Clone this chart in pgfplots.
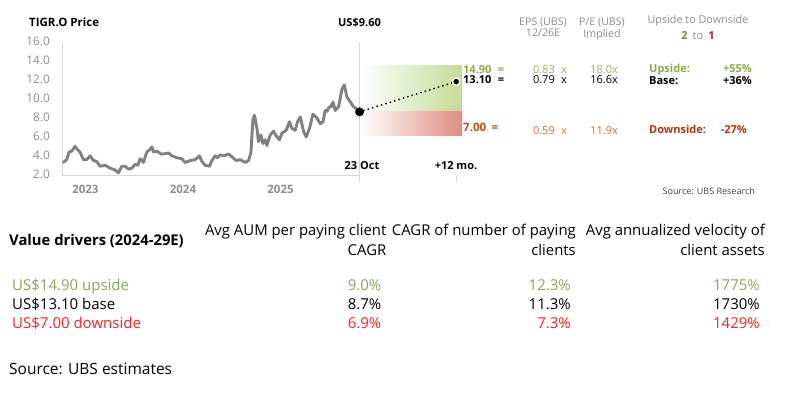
\documentclass[border=0pt]{standalone}
\usepackage{fontspec}
\setmainfont{Open Sans}
\usepackage{pgfplots}
\pgfplotsset{compat=1.18}
\definecolor{linegray}{RGB}{128,128,128}
\definecolor{ticklab}{RGB}{140,140,140}
\definecolor{gridgray}{RGB}{215,215,215}
\definecolor{boxgreen}{RGB}{196,220,150}
\definecolor{boxred}{RGB}{225,140,128}
\definecolor{ubsgreen}{RGB}{140,170,70}
\definecolor{ubsgreenlt}{RGB}{150,180,95}
\definecolor{darkgreen}{RGB}{100,140,40}
\definecolor{darkred}{RGB}{170,40,30}
\definecolor{brown}{RGB}{190,80,20}
\definecolor{brownlt}{RGB}{200,115,55}
\definecolor{browndk}{RGB}{170,55,20}
\definecolor{tblgreen}{RGB}{140,165,90}
\definecolor{tblred}{RGB}{250,35,35}
\newcommand\fs[1]{\fontsize{#1}{#1}\selectfont}
\begin{document}
\begin{tikzpicture}[x=1pt,y=-1pt]
\path[use as bounding box] (0,0) rectangle (786,396);
\begin{axis}[at={(62pt,-175.7pt)}, anchor=south west, scale only axis,
  width=400pt, height=132.4pt,
  xmin=2022.76, xmax=2026.86, ymin=2, ymax=16,
  axis lines*=left, axis line style={draw=none,-},
  major tick length=0pt, clip=false,
  ytick={2,4,...,16},
  yticklabel style={/pgf/number format/fixed,/pgf/number format/fixed zerofill,/pgf/number format/precision=1, anchor=mid east, inner sep=0pt, xshift=-12pt, font=\fs{11.8}, text=ticklab},
  /pgf/number format/assume math mode=true,
  xtick={2023,2024,2025}, xticklabels={2023,2024,2025},
  xticklabel style={anchor=mid, inner sep=0pt, yshift=-15pt, font=\fs{11.5}\bfseries, text=ticklab},
]
\addplot[draw=none, left color=white, right color=boxgreen] coordinates {(2025.81,8.75) (2026.86,8.75) (2026.86,13.6) (2025.81,13.6)} -- cycle;
\addplot[draw=none, left color=white, right color=boxred] coordinates {(2025.81,6.3) (2026.86,6.3) (2026.86,8.75) (2025.81,8.75)} -- cycle;
\draw[gridgray, line width=0.8pt] (axis cs:2022.76,16) -- (axis cs:2022.76,2) -- (axis cs:2025.81,2);
\draw[gridgray, line width=0.8pt] (axis cs:2025.81,16) -- (axis cs:2025.81,2) -- ++(0pt,-6pt);
\draw[gridgray, line width=0.8pt] (axis cs:2026.80,2) -- ++(0pt,-6pt);
\addplot[color=linegray, line width=2.9pt, line join=round, line cap=round] table {
2022.774 3.4
2022.809 3.7
2022.833 4.5
2022.860 4.6
2022.894 5.1
2022.915 4.8
2022.945 4.5
2022.979 3.7
2023.014 3.7
2023.048 4.1
2023.082 3.6
2023.117 3.5
2023.151 3.0
2023.202 3.1
2023.253 2.8
2023.304 2.6
2023.338 2.3
2023.373 3.0
2023.407 3.0
2023.441 2.7
2023.476 2.8
2023.509 3.2
2023.537 3.1
2023.561 3.8
2023.595 3.4
2023.629 4.5
2023.663 4.8
2023.681 5.05
2023.697 4.5
2023.732 4.6
2023.776 4.3
2023.800 4.3
2023.851 4.4
2023.886 4.1
2023.937 3.9
2023.988 3.8
2024.022 3.4
2024.074 3.6
2024.125 3.7
2024.169 4.1
2024.194 3.5
2024.227 3.1
2024.272 3.0
2024.296 3.6
2024.330 4.1
2024.354 3.9
2024.381 4.2
2024.422 4.1
2024.466 4.3
2024.501 4.0
2024.545 3.6
2024.586 3.7
2024.638 3.4
2024.672 3.6
2024.696 4.4
2024.717 7.9
2024.733 8.4
2024.758 7.0
2024.774 5.6
2024.799 6.3
2024.819 5.4
2024.843 5.8
2024.860 5.2
2024.894 6.3
2024.928 6.7
2024.963 6.1
2024.989 5.8
2025.014 6.5
2025.058 6.8
2025.092 7.7
2025.117 7.0
2025.151 6.8
2025.174 7.7
2025.202 8.2
2025.236 6.7
2025.263 6.1
2025.297 7.0
2025.332 8.5
2025.373 8.1
2025.407 7.5
2025.435 7.7
2025.458 8.9
2025.476 8.8
2025.492 9.2
2025.517 9.3
2025.537 9.8
2025.561 8.9
2025.595 9.3
2025.629 11.1
2025.653 11.6
2025.681 10.3
2025.715 9.8
2025.748 9.3
2025.776 9.1
2025.810 8.75
};
\addplot[black, line width=2pt, dash pattern=on 0pt off 4.6pt, line cap=round] coordinates {(2025.81,8.75) (2026.80,11.95)};
\addplot[only marks, mark=*, mark size=4.2pt, black] coordinates {(2025.81,8.75)};
\addplot[only marks, mark=*, mark size=3.6pt, mark options={fill=black, draw=white, line width=1.3pt}] coordinates {(2026.80,11.95)};
\end{axis}
% top texts
\node[anchor=mid west, font=\fs{11.5}\bfseries, inner sep=0pt] at (29,24) {TIGR.O Price};
\node[anchor=mid east, font=\fs{11}\bfseries, inner sep=0pt] at (381,24) {US\$9.60};
\node[anchor=mid, font=\fs{11}\bfseries, inner sep=0pt] at (362,167) {23 Oct};
\node[anchor=mid, font=\fs{11}\bfseries, inner sep=0pt] at (456,167) {+12 mo.};
\node[anchor=mid west, font=\fs{11}\bfseries, inner sep=0pt, text=ubsgreen] at (463,70.5) {14.90};
\node[anchor=mid, font=\fs{11}\bfseries, inner sep=0pt, text=ubsgreen] at (501,70.5) {=};
\node[anchor=mid west, font=\fs{11}\bfseries, inner sep=0pt] at (463,80.5) {13.10};
\node[anchor=mid, font=\fs{11}\bfseries, inner sep=0pt] at (501,80.5) {=};
\node[anchor=mid west, font=\fs{11.5}\bfseries, inner sep=0pt, text=brown] at (463,129) {7.00};
\node[anchor=mid, font=\fs{11.5}\bfseries, inner sep=0pt, text=brown] at (495,129) {=};
% headers
\node[anchor=mid, font=\fs{10.6}, inner sep=0pt, text=ticklab] at (543,22.7) {EPS (UBS)};
\node[anchor=mid, font=\fs{10.6}, inner sep=0pt, text=ticklab] at (543,34) {12/26E};
\node[anchor=mid, font=\fs{10.6}, inner sep=0pt, text=ticklab] at (602,23) {P/E (UBS)};
\node[anchor=mid, font=\fs{10.6}, inner sep=0pt, text=ticklab] at (602,35) {Implied};
\node[anchor=mid, font=\fs{10.8}, inner sep=0pt, text=ticklab] at (698,21.3) {Upside to Downside};
\node[anchor=mid, font=\fs{11}, inner sep=0pt, text=ticklab] at (698,37) {{\color{darkgreen}\bfseries 2}\hspace{5pt}to\hspace{5pt}{\color{darkred}\bfseries 1}};
% EPS column
\node[anchor=mid east, font=\fs{11}, inner sep=0pt, text=ubsgreenlt] at (555,70.5) {0.83};
\node[anchor=mid, font=\fs{11}, inner sep=0pt, text=ubsgreenlt] at (564,70.5) {x};
\node[anchor=mid east, font=\fs{11}, inner sep=0pt] at (555,81) {0.79};
\node[anchor=mid, font=\fs{11}, inner sep=0pt] at (564,81) {x};
\node[anchor=mid east, font=\fs{11}, inner sep=0pt, text=brownlt] at (555,132) {0.59};
\node[anchor=mid, font=\fs{11}, inner sep=0pt, text=brownlt] at (564,132) {x};
% P/E column
\node[anchor=mid east, font=\fs{11}, inner sep=0pt, text=ubsgreenlt] at (618,70.5) {18.0x};
\node[anchor=mid east, font=\fs{11}, inner sep=0pt] at (618,81) {16.6x};
\node[anchor=mid east, font=\fs{11}, inner sep=0pt, text=brownlt] at (618,132) {11.9x};
% Upside column
\node[anchor=mid west, font=\fs{11}\bfseries, inner sep=0pt, text=ubsgreen] at (649,70) {Upside:};
\node[anchor=mid east, font=\fs{11}\bfseries, inner sep=0pt, text=ubsgreen] at (752,70) {+55\%};
\node[anchor=mid west, font=\fs{11}\bfseries, inner sep=0pt] at (649,82) {Base:};
\node[anchor=mid east, font=\fs{11}\bfseries, inner sep=0pt] at (752,82) {+36\%};
\node[anchor=mid west, font=\fs{11}\bfseries, inner sep=0pt, text=browndk] at (649,131) {Downside:};
\node[anchor=mid east, font=\fs{11}\bfseries, inner sep=0pt, text=browndk] at (747,131) {-27\%};
\node[anchor=mid east, font=\fs{9}, inner sep=0pt, text=black!75] at (755,191.7) {Source: UBS Research};
% bottom table
\node[anchor=mid west, font=\fs{14.8}\bfseries, inner sep=0pt] at (9,243.3) {Value drivers (2024-29E)};
\node[anchor=mid east, font=\fs{14.9}, inner sep=0pt] at (386.5,233.3) {Avg AUM per paying client};
\node[anchor=mid east, font=\fs{14.9}, inner sep=0pt] at (386.5,252.7) {CAGR};
\node[anchor=mid east, font=\fs{14.9}, inner sep=0pt] at (576,233.3) {CAGR of number of paying};
\node[anchor=mid east, font=\fs{14.9}, inner sep=0pt] at (576,252.7) {clients};
\node[anchor=mid east, font=\fs{14.9}, inner sep=0pt] at (765,233.3) {Avg annualized velocity of};
\node[anchor=mid east, font=\fs{14.9}, inner sep=0pt] at (765,252.7) {client assets};
\node[anchor=mid west, font=\fs{15}, inner sep=0pt, text=tblgreen] at (12,287.7) {US\$14.90 upside};
\node[anchor=mid east, font=\fs{15}, inner sep=0pt, text=tblgreen] at (381.5,287.7) {9.0\%};
\node[anchor=mid east, font=\fs{15}, inner sep=0pt, text=tblgreen] at (571,287.7) {12.3\%};
\node[anchor=mid east, font=\fs{15}, inner sep=0pt, text=tblgreen] at (760,287.7) {1775\%};
\node[anchor=mid west, font=\fs{15}, inner sep=0pt] at (12,306.7) {US\$13.10 base};
\node[anchor=mid east, font=\fs{15}, inner sep=0pt] at (381.5,306.7) {8.7\%};
\node[anchor=mid east, font=\fs{15}, inner sep=0pt] at (571,306.7) {11.3\%};
\node[anchor=mid east, font=\fs{15}, inner sep=0pt] at (760,306.7) {1730\%};
\node[anchor=mid west, font=\fs{15}, inner sep=0pt, text=tblred] at (12,325.7) {US\$7.00 downside};
\node[anchor=mid east, font=\fs{15}, inner sep=0pt, text=tblred] at (381.5,325.7) {6.9\%};
\node[anchor=mid east, font=\fs{15}, inner sep=0pt, text=tblred] at (571,325.7) {7.3\%};
\node[anchor=mid east, font=\fs{15}, inner sep=0pt, text=tblred] at (760,325.7) {1429\%};
\node[anchor=mid west, font=\fs{15.5}, inner sep=0pt] at (9,371.7) {Source: UBS estimates};
\end{tikzpicture}
\end{document}
